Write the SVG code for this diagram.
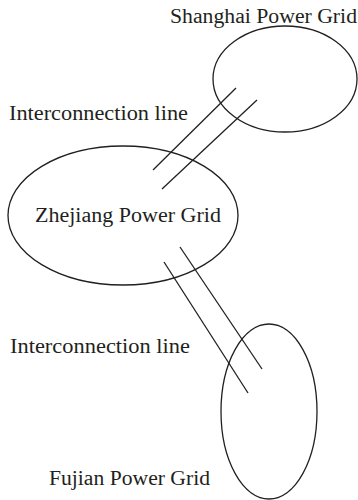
<svg xmlns="http://www.w3.org/2000/svg" width="358" height="500" viewBox="0 0 358 500">
<style>
.node{fill:none;stroke:#231f20;stroke-width:1.3}
.line{stroke:#231f20;stroke-width:1.3;fill:none}
text{font-family:"Liberation Serif","Times New Roman",serif;font-size:20px;fill:#231f20}
</style>
<rect width="358" height="500" fill="#fff"/>
<g id="shanghai">
<ellipse class="node" cx="285" cy="79" rx="72" ry="53"/>
<text x="170" y="23" textLength="187" lengthAdjust="spacingAndGlyphs">Shanghai Power Grid</text>
</g>
<g id="zhejiang">
<ellipse class="node" cx="123" cy="215.5" rx="115" ry="69.5"/>
<text x="35" y="222" textLength="186" lengthAdjust="spacingAndGlyphs">Zhejiang Power Grid</text>
</g>
<g id="fujian">
<ellipse class="node" cx="269" cy="411.5" rx="48" ry="87.5"/>
<text x="49" y="485" textLength="161" lengthAdjust="spacingAndGlyphs">Fujian Power Grid</text>
</g>
<g id="connectors">
<line class="line" x1="236" y1="88" x2="153" y2="170"/>
<line class="line" x1="257" y1="100" x2="162" y2="189"/>
<line class="line" x1="164" y1="262" x2="248" y2="393"/>
<line class="line" x1="180" y1="247" x2="262" y2="369"/>
<text x="9" y="120" textLength="179" lengthAdjust="spacingAndGlyphs">Interconnection line</text>
<text x="10" y="353" textLength="180" lengthAdjust="spacingAndGlyphs">Interconnection line</text>
</g>
</svg>
